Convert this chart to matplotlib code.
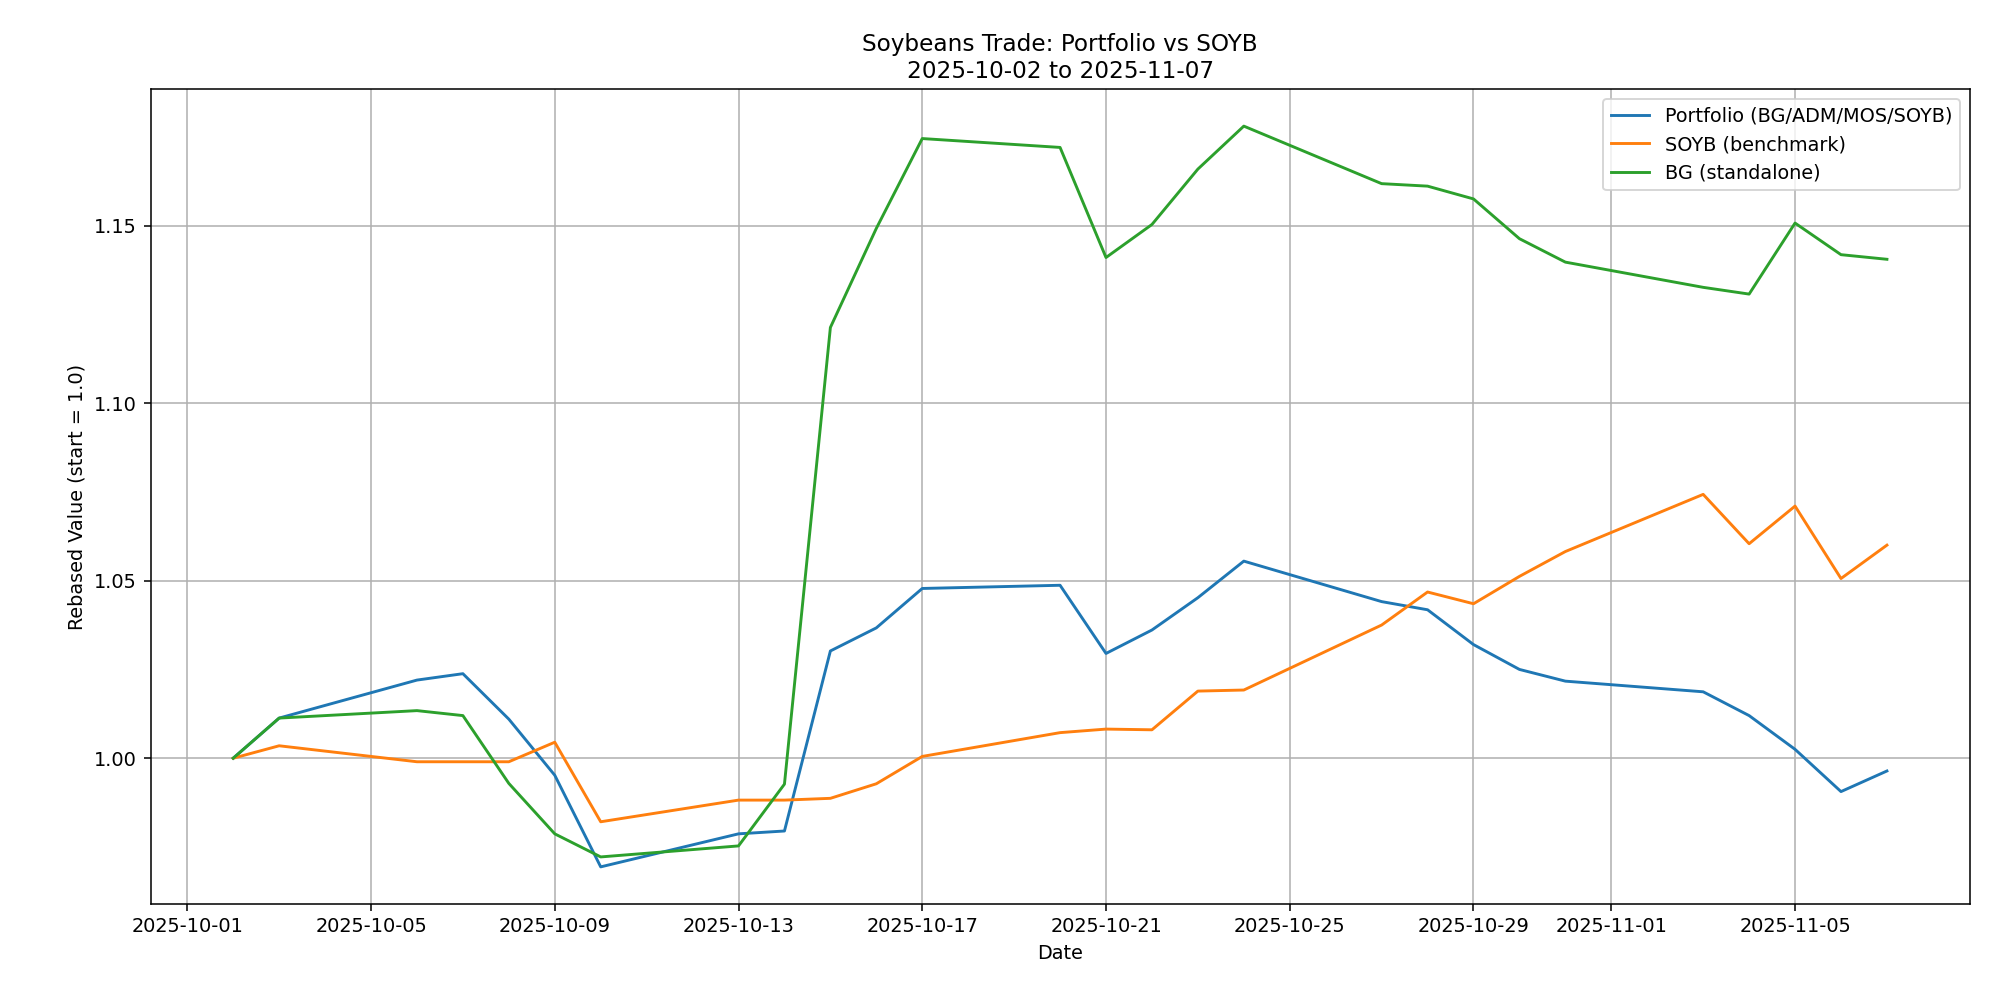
import numpy as np
import pandas as pd
import matplotlib
matplotlib.use("Agg")
import matplotlib.pyplot as plt

dates = ["2025-10-02", "2025-10-03", "2025-10-06", "2025-10-07", "2025-10-08",
         "2025-10-09", "2025-10-10", "2025-10-13", "2025-10-14", "2025-10-15",
         "2025-10-16", "2025-10-17", "2025-10-20", "2025-10-21", "2025-10-22",
         "2025-10-23", "2025-10-24", "2025-10-27", "2025-10-28", "2025-10-29",
         "2025-10-30", "2025-10-31", "2025-11-03", "2025-11-04", "2025-11-05",
         "2025-11-06", "2025-11-07"]

portfolio = [1.0000, 1.0113, 1.0220, 1.0238, 1.0110, 0.9952, 0.9694, 0.9787, 0.9795,
             1.0302, 1.0367, 1.0478, 1.0487, 1.0295, 1.0361, 1.0452, 1.0555, 1.0441,
             1.0418, 1.0320, 1.0250, 1.0217, 1.0187, 1.0120, 1.0025, 0.9906, 0.9964]

soyb = [1.0000, 1.0035, 0.9990, 0.9990, 0.9990, 1.0045, 0.9821, 0.9882, 0.9882,
        0.9887, 0.9928, 1.0005, 1.0072, 1.0082, 1.0080, 1.0189, 1.0192, 1.0375,
        1.0468, 1.0435, 1.0512, 1.0582, 1.0743, 1.0604, 1.0710, 1.0506, 1.0600]

bg = [1.0000, 1.0113, 1.0134, 1.0120, 0.9929, 0.9787, 0.9722, 0.9753, 0.9927,
      1.1213, 1.1492, 1.1745, 1.1720, 1.1410, 1.1503, 1.1659, 1.1780, 1.1618,
      1.1611, 1.1575, 1.1463, 1.1397, 1.1326, 1.1307, 1.1507, 1.1418, 1.1405]

x = pd.to_datetime(dates)

DPI = 139
fig, ax = plt.subplots(figsize=(1999 / DPI, 1001 / DPI), dpi=DPI)
fig.subplots_adjust(left=0.0753, right=0.9853, top=0.911, bottom=0.097)

ax.plot(x, portfolio, label="Portfolio (BG/ADM/MOS/SOYB)")
ax.plot(x, soyb, label="SOYB (benchmark)")
ax.plot(x, bg, label="BG (standalone)")

ax.set_title("Soybeans Trade: Portfolio vs SOYB\n2025-10-02 to 2025-11-07")
ax.set_xlabel("Date")
ax.set_ylabel("Rebased Value (start = 1.0)")
ax.grid(True)
ax.legend(loc="upper right")

fig.savefig("out.png", dpi=DPI)
